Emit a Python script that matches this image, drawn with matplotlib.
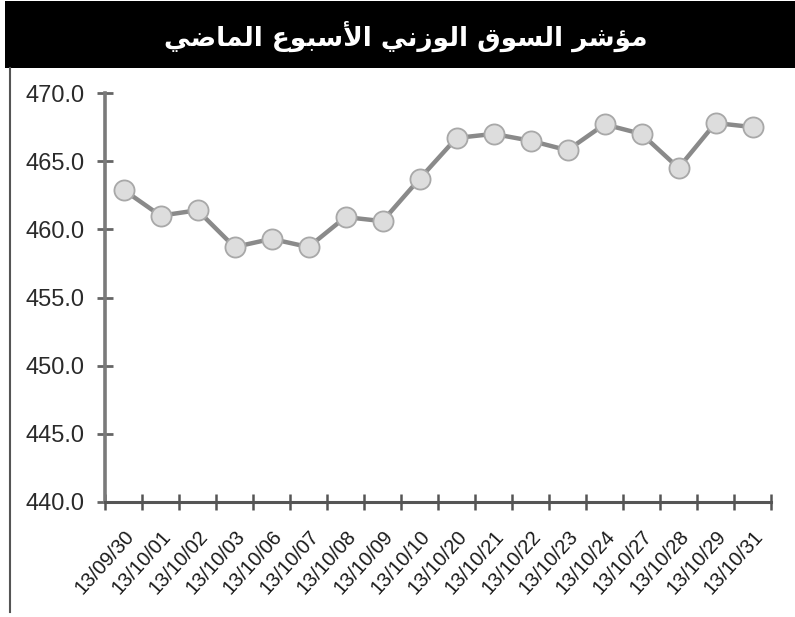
import matplotlib
matplotlib.use("Agg")
import matplotlib.pyplot as plt
from matplotlib.patches import Rectangle
from matplotlib.lines import Line2D
from matplotlib.ticker import FixedLocator

# ---- data ----
dates = ["13/09/30", "13/10/01", "13/10/02", "13/10/03", "13/10/06", "13/10/07",
         "13/10/08", "13/10/09", "13/10/10", "13/10/20", "13/10/21", "13/10/22",
         "13/10/23", "13/10/24", "13/10/27", "13/10/28", "13/10/29", "13/10/31"]
values = [462.9, 461.0, 461.4, 458.7, 459.3, 458.7, 460.9, 460.6, 463.7,
          466.7, 467.0, 466.5, 465.8, 467.7, 467.0, 464.5, 467.8, 467.5]
yticks = [440.0, 445.0, 450.0, 455.0, 460.0, 465.0, 470.0]
title = "مؤشر السوق الوزني الأسبوع الماضي"

# ---- minimal Arabic shaping (presentation forms) ----
FORMS = {  # isolated, final, initial, medial
    'ا': ('\uFE8D', '\uFE8E', None, None),
    'أ': ('\uFE83', '\uFE84', None, None),
    'ؤ': ('\uFE85', '\uFE86', None, None),
    'ب': ('\uFE8F', '\uFE90', '\uFE91', '\uFE92'),
    'ر': ('\uFEAD', '\uFEAE', None, None),
    'ز': ('\uFEAF', '\uFEB0', None, None),
    'س': ('\uFEB1', '\uFEB2', '\uFEB3', '\uFEB4'),
    'ش': ('\uFEB5', '\uFEB6', '\uFEB7', '\uFEB8'),
    'ض': ('\uFEBD', '\uFEBE', '\uFEBF', '\uFEC0'),
    'ع': ('\uFEC9', '\uFECA', '\uFECB', '\uFECC'),
    'ق': ('\uFED5', '\uFED6', '\uFED7', '\uFED8'),
    'ل': ('\uFEDD', '\uFEDE', '\uFEDF', '\uFEE0'),
    'م': ('\uFEE1', '\uFEE2', '\uFEE3', '\uFEE4'),
    'ن': ('\uFEE5', '\uFEE6', '\uFEE7', '\uFEE8'),
    'و': ('\uFEED', '\uFEEE', None, None),
    'ي': ('\uFEF1', '\uFEF2', '\uFEF3', '\uFEF4'),
}
LAMALEF = {'ا': ('\uFEFB', '\uFEFC'), 'أ': ('\uFEF7', '\uFEF8')}


def shape_word(w):
    units = []
    i = 0
    while i < len(w):
        if w[i] == 'ل' and i + 1 < len(w) and w[i + 1] in LAMALEF:
            units.append(('LA', w[i + 1]))
            i += 2
        else:
            units.append(('C', w[i]))
            i += 1

    def joins_left(u):
        if u[0] == 'LA':
            return False
        return FORMS[u[1]][2] is not None

    out = []
    for k, u in enumerate(units):
        prev_join = k > 0 and joins_left(units[k - 1])
        next_join = k + 1 < len(units) and joins_left(u)
        if u[0] == 'LA':
            iso, fin = LAMALEF[u[1]]
            out.append(fin if prev_join else iso)
            continue
        iso, fin, ini, med = FORMS[u[1]]
        if prev_join and next_join:
            out.append(med)
        elif prev_join:
            out.append(fin)
        elif next_join:
            out.append(ini)
        else:
            out.append(iso)
    return ''.join(out)


def shape_rtl(s):
    return ' '.join(shape_word(w) for w in s.split(' '))[::-1]


plt.rcParams['font.family'] = ['Liberation Sans', 'DejaVu Sans']

W, H = 795, 617
fig = plt.figure(figsize=(W / 100, H / 100), dpi=100)
fig.patch.set_facecolor('white')

# title bar
fig.patches.append(Rectangle((5 / W, 1 - 68 / H), 790 / W, 67 / H,
                             transform=fig.transFigure, facecolor='black',
                             edgecolor='none', zorder=0))
fig.text(406 / W, 1 - 36 / H, shape_rtl(title), color='white', fontsize=19,
         fontweight='bold', family=['DejaVu Sans'], ha='center', va='center')
# left frame line
fig.lines.append(Line2D([9.5 / W, 9.5 / W], [1 - 68 / H, 1 - 612 / H],
                        transform=fig.transFigure, color='#555555', lw=1.5))

ax = fig.add_axes([105 / W, 1 - 502 / H, (771 - 105) / W, (502 - 93) / H])
x = list(range(len(dates)))
ax.plot(x, values, color='#8a8a8a', lw=3.2, zorder=3, clip_on=False,
        marker='o', markersize=14.5, markerfacecolor='#dddddd',
        markeredgecolor='#a8a8a8', markeredgewidth=1.3)

ax.set_xlim(-0.5, len(dates) - 0.5)
ax.set_ylim(440, 470)
ax.set_yticks(yticks)
ax.set_yticklabels([f"{v:.1f}" for v in yticks])
ax.set_xticks(x)
ax.set_xticklabels(dates, rotation=48, ha='right', rotation_mode='anchor')
ax.xaxis.set_minor_locator(FixedLocator([i - 0.5 for i in range(len(dates) + 1)]))

for s in ['top', 'right']:
    ax.spines[s].set_visible(False)
ax.spines['left'].set_color('#7a7a7a')
ax.spines['left'].set_linewidth(2.6)
ax.spines['bottom'].set_color('#555555')
ax.spines['bottom'].set_linewidth(2.2)

ax.tick_params(axis='y', direction='inout', length=11, width=2, color='#666666',
               labelsize=17, labelcolor='#2a2a2a', pad=9)
ax.tick_params(axis='x', which='major', length=0, labelsize=14.5,
               labelcolor='#1a1a1a', pad=18)
ax.tick_params(axis='x', which='minor', direction='inout', length=11, width=1.8,
               color='#555555')

fig.savefig('out.png', dpi=100)
